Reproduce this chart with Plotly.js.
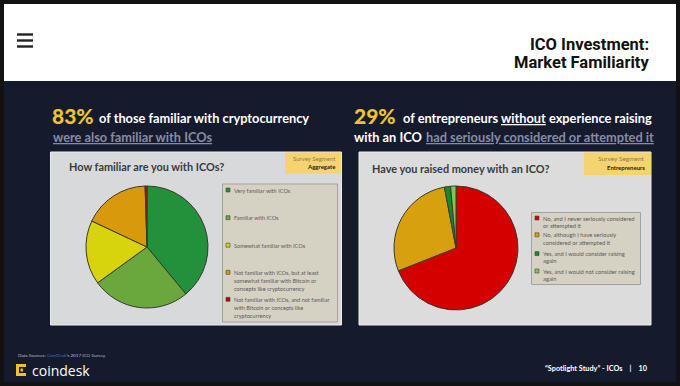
<!DOCTYPE html>
<html><head><meta charset="utf-8">
<script src="https://cdn.plot.ly/plotly-3.0.1.min.js"></script>
<style>html,body{margin:0;padding:0;background:#121212;}#chart{width:680px;height:386px;}</style>
</head><body><div id="chart"></div>
<script>
// ---- data ----
const leftTitle = "How familiar are you with ICOs?";
const leftSegment = "Aggregate";
const leftLabels = [
  "Very familiar with ICOs",
  "Familiar with ICOs",
  "Somewhat familiar with ICOs",
  "Not familiar with ICOs, but at least<br>somewhat familiar with Bitcoin or<br>concepts like cryptocurrency",
  "Not familiar with ICOs, and not familiar<br>with Bitcoin or concepts like<br>cryptocurrency"
];
const leftValues = [39, 26, 17, 17.5, 0.5];
const leftColors = ["#23903c", "#6aa83e", "#d7d40e", "#d89a0c", "#c00000"];

const rightTitle = "Have you raised money with an ICO?";
const rightSegment = "Entrepreneurs";
const rightLabels = [
  "No, and I never seriously considered<br>or attempted it",
  "No, although I have seriously<br>considered or attempted it",
  "Yes, and I would consider raising<br>again",
  "Yes, and I would not consider raising<br>again"
];
const rightValues = [69, 28, 1.6, 1.4];
const rightColors = ["#d40000", "#d6a00e", "#17882c", "#8dbd5c"];

// ---- helpers ----
const W = 680, H = 386;
const X = p => p / W, Y = p => 1 - p / H;
const shapes = [], ann = [];
function rect(x0, y0, x1, y1, fill, line, lw) {
  shapes.push({type:'rect', xref:'paper', yref:'paper', x0:X(x0), x1:X(x1), y0:Y(y1), y1:Y(y0),
    fillcolor:fill, line:{color:line || fill, width: lw === undefined ? 0 : lw}, layer:'below'});
}
function text(t, x, y, o) {
  o = o || {};
  ann.push({text:t, xref:'paper', yref:'paper', x:X(x), y:Y(y), xanchor:o.xa || 'left', yanchor:o.ya || 'middle',
    showarrow:false, align:o.align || 'left',
    font:Object.assign({family:'Lato, sans-serif', size:10, color:'#fff'}, o.font || {})});
}

// slide background
rect(4, 4, 676, 382, '#151b2d');
rect(4, 4, 676, 81, '#ffffff');
// hamburger
[34.5, 40.5, 46.5].forEach(y => rect(17, y - 1.2, 33, y + 1.2, '#222222'));
text('ICO Investment:', 651, 45, {xa:'right', font:{family:'Roboto, sans-serif', size:16.5, weight:700, color:'#111'}});
text('Market Familiarity', 651, 62.5, {xa:'right', font:{family:'Roboto, sans-serif', size:16.5, weight:700, color:'#111'}});

// headlines
const HF = 12.8;
text('83%', 50, 116, {font:{size:21, weight:900, color:'#f2c12e'}});
text('of those familiar with cryptocurrency', 97, 118, {font:{size:HF, weight:700, color:'#ffffff'}});
text('were also familiar with ICOs', 51, 137, {font:{size:HF, weight:700, color:'#878ca5', lineposition:'under'}});
text('29%', 352, 116, {font:{size:21, weight:900, color:'#f2c12e'}});
text('of entrepreneurs <span style="text-decoration:underline">without</span> experience raising', 401, 118, {font:{size:HF, weight:700, color:'#ffffff'}});
text('with an ICO', 352, 137, {font:{size:HF, weight:700, color:'#ffffff'}});
text('had seriously considered or attempted it', 424, 137, {font:{size:HF, weight:700, color:'#878ca5', lineposition:'under'}});

// panels
rect(50.5, 152, 341.5, 325, '#d8d9db', '#ecedef', 1);
rect(359, 152, 651, 325, '#dcdcdd', '#ecedef', 1);
rect(285, 152.5, 341, 173.5, '#f5d470');
rect(584, 152.5, 651, 175, '#f5d470');
text('Survey Segment', 338, 158, {xa:'right', font:{size:6, color:'#8a7a52'}});
text(leftSegment, 338, 166.5, {xa:'right', font:{size:6, weight:700, color:'#222'}});
text('Survey Segment', 647, 158.5, {xa:'right', font:{size:6.5, color:'#8a7a52'}});
text(rightSegment, 647, 167.5, {xa:'right', font:{size:6, weight:700, color:'#222'}});
text(leftTitle, 67, 166.5, {font:{size:10.9, weight:700, color:'#3a3a3a'}});
text(rightTitle, 370, 168, {font:{size:10.9, weight:700, color:'#3a3a3a'}});

// legend boxes
rect(222.5, 184, 337.5, 322, '#d5d2c3', '#a3a39e', 1);
rect(531.5, 212.5, 640.5, 284.5, '#d5d2c3', '#a3a39e', 1);
function legend(labels, colors, x, ys, lineGap, fs) {
  labels.forEach((lab, i) => {
    const y = ys[i];
    rect(x, y - 2, x + 4, y + 2, colors[i], '#444', 0.6);
    lab.split('<br>').forEach((ln, j) => text(ln, x + 5.5, y + j * lineGap, {font:{size:fs, color:'#5a5a5a'}}));
  });
}
legend(leftLabels, leftColors, 226, [190, 217.7, 245.2, 272.3, 299.3], 8.3, 5.6);
legend(rightLabels, rightColors, 535, [218, 234.8, 253.6, 271], 7.3, 5.8);

// footer
text('Data Sources: <span style="color:#3a6fc4">CoinDesk</span>\'s 2017 ICO Survey', 16, 355, {font:{size:4.6, color:'#b9bcc8'}});
// coindesk logo
rect(16, 364, 19, 376, '#f2c12e');
rect(16, 364, 26, 367, '#f2c12e');
rect(16, 373, 26, 376, '#f2c12e');
rect(20.5, 368.5, 23, 371.5, '#f2c12e');
text('coindesk', 30, 370, {font:{family:'Open Sans, sans-serif', size:14, color:'#ffffff'}});
text("\u201CSpotlight Study\u201D - ICOs&nbsp;&nbsp;&nbsp;&nbsp;|&nbsp;&nbsp;&nbsp;&nbsp;10", 650, 368.5, {xa:'right', font:{size:7.3, weight:700, color:'#ffffff'}});

const data = [
  {type:'pie', labels:leftLabels, values:leftValues, sort:false, direction:'clockwise', rotation:0,
   marker:{colors:leftColors, line:{color:'#3a3a2a', width:1}}, textinfo:'none', hoverinfo:'label+percent',
   showlegend:false, domain:{x:[X(86), X(208)], y:[Y(308), Y(186)]}},
  {type:'pie', labels:rightLabels, values:rightValues, sort:false, direction:'clockwise', rotation:0,
   marker:{colors:rightColors, line:{color:'#3a3a2a', width:1}}, textinfo:'none', hoverinfo:'label+percent',
   showlegend:false, domain:{x:[X(394), X(518)], y:[Y(310), Y(186)]}}
];
const layout = {width:W, height:H, margin:{l:0, r:0, t:0, b:0}, paper_bgcolor:'#121212', plot_bgcolor:'rgba(0,0,0,0)',
  shapes:shapes, annotations:ann, showlegend:false};
Plotly.newPlot('chart', data, layout, {displayModeBar:false, staticPlot:true});
</script></body></html>
